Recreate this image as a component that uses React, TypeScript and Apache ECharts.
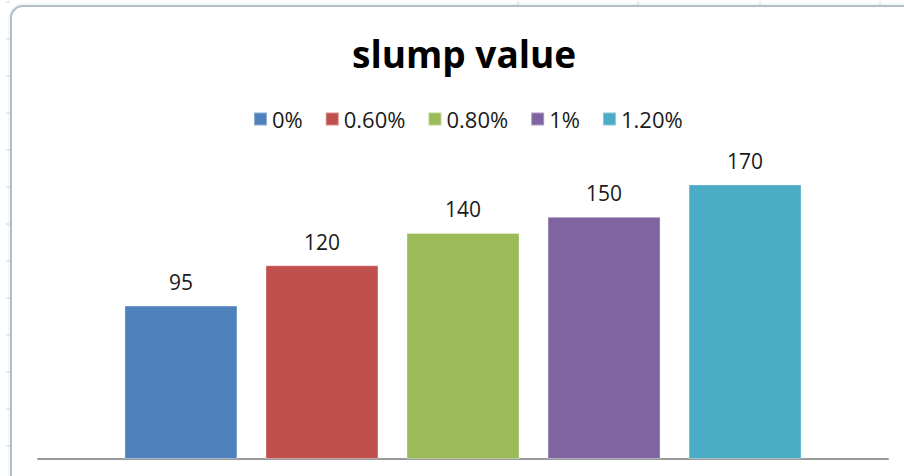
import React, { useEffect, useRef } from "react";
import * as echarts from "echarts";

const categories = [""];
const seriesNames = ["0%", "0.60%", "0.80%", "1%", "1.20%"];
const seriesValues = [95, 120, 140, 150, 170];
const seriesColors = ["#4F81BD", "#C0504D", "#9BBB59", "#8064A2", "#4BACC6"];
const titleText = "slump value";

export default function App() {
  const ref = useRef<HTMLDivElement>(null);
  useEffect(() => {
    if (!ref.current) return;
    const chart = echarts.init(ref.current, null, { renderer: "svg" });
    const font = "'Open Sans', 'Liberation Sans', sans-serif";
    const leftTicks: any[] = [];
    for (let i = 0; i < 13; i++) {
      const y = 2 + i * 37;
      leftTicks.push({
        type: "line",
        shape: { x1: 6, y1: y, x2: 10, y2: y },
        style: { stroke: "#c8d4dc", lineWidth: 1 },
        silent: true,
      });
    }
    [518, 638, 760, 880].forEach((x) => {
      leftTicks.push({
        type: "line",
        shape: { x1: x, y1: 1, x2: x, y2: 5 },
        style: { stroke: "#d4dce2", lineWidth: 1 },
        silent: true,
      });
    });
    chart.setOption({
      animation: false,
      backgroundColor: "#ffffff",
      title: {
        text: titleText,
        left: 347,
        top: 30,
        textStyle: {
          fontFamily: font,
          fontSize: 37,
          fontWeight: "bold",
          color: "#000000",
        },
      },
      legend: {
        left: 253,
        top: 108,
        padding: 0,
        itemWidth: 13,
        itemHeight: 13,
        itemGap: 22,
        icon: "rect",
        textStyle: { fontFamily: font, fontSize: 22, color: "#1a1a1a" },
        data: seriesNames,
      },
      grid: { left: 38, right: 16, top: 136, bottom: 17 },
      xAxis: {
        type: "category",
        data: categories,
        axisLine: { show: true, lineStyle: { color: "#9a9a9a", width: 2 } },
        axisTick: { show: false },
        axisLabel: { show: false },
      },
      yAxis: {
        type: "value",
        min: 0,
        max: 200,
        show: false,
        splitLine: { show: false },
      },
      graphic: [
        {
          type: "rect",
          shape: { x: 11, y: 6, width: 1000, height: 600, r: [12, 0, 0, 0] },
          style: { fill: "none", stroke: "#b4bcc4", lineWidth: 2 },
          silent: true,
          z: -10,
        },
        {
          type: "rect",
          shape: { x: 9, y: 4, width: 1000, height: 600, r: [14, 0, 0, 0] },
          style: { fill: "none", stroke: "#dff0f4", lineWidth: 1 },
          silent: true,
          z: -10,
        },
        ...leftTicks,
      ],
      series: seriesNames.map((name, i) => ({
        name,
        type: "bar",
        barWidth: 113,
        barGap: "24.8%",
        data: [seriesValues[i]],
        itemStyle: {
          color: seriesColors[i],
          borderColor: "rgba(255,255,255,0.35)",
          borderWidth: 1,
        },
        label: {
          show: true,
          position: "top",
          distance: 13,
          fontFamily: font,
          fontSize: 21,
          color: "#1a1a1a",
        },
      })),
    });
    return () => chart.dispose();
  }, []);
  return (
    <div
      ref={ref}
      style={{ position: "absolute", left: 0, top: 0, width: 904, height: 476 }}
    />
  );
}
